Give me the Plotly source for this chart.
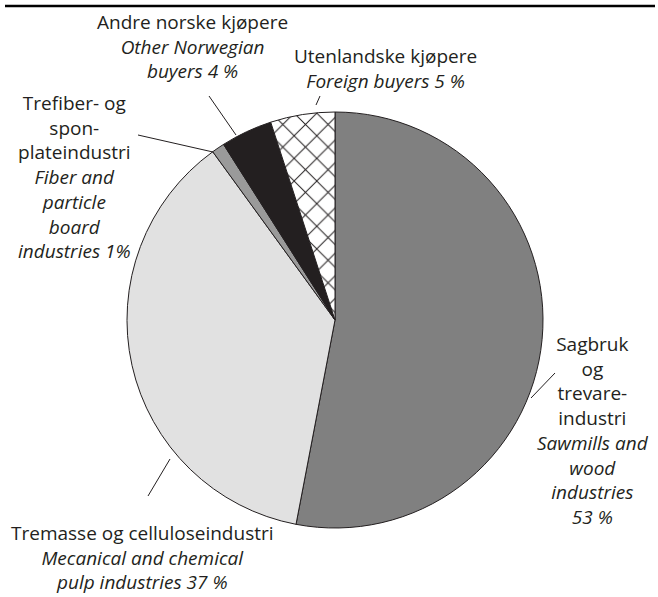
import plotly.graph_objects as go

W, H = 658, 597

labels = ["Sawmills and wood industries", "Mecanical and chemical pulp industries",
          "Fiber and particle board industries", "Other Norwegian buyers", "Foreign buyers"]
values = [53, 37, 1, 4, 5]
colors = ["#808080", "#e1e1e1", "#9a9a9a", "#231f20", "#ffffff"]
patterns = ["", "", "", "", "x"]

label_texts = [
    "Sagbruk<br>og<br>trevare-<br>industri<br><i>Sawmills and<br>wood<br>industries<br>53 %</i>",
    "Tremasse og celluloseindustri<br><i>Mecanical and chemical<br>pulp industries 37 %</i>",
    "Trefiber- og<br>spon-<br>plateindustri<br><i>Fiber and<br>particle<br>board<br>industries 1%</i>",
    "Andre norske kjøpere<br><i>Other Norwegian<br>buyers 4 %</i>",
    "Utenlandske kjøpere<br><i>Foreign buyers 5 %</i>",
]

# pie placement in pixels (page coordinates)
cx, cy, r = 335, 320, 208

def px(x):
    return x / W

def py(y):
    return 1 - y / H

fig = go.Figure()
fig.add_trace(go.Pie(
    labels=labels, values=values, sort=False, direction="clockwise", rotation=0,
    marker=dict(colors=colors, line=dict(color="#231f20", width=1),
                pattern=dict(shape=patterns, fgcolor="#231f20", bgcolor="#ffffff",
                             size=16, solidity=0.12)),
    textinfo="none", hoverinfo="label+percent", showlegend=False,
    domain=dict(x=[px(cx - r), px(cx + r)], y=[py(cy + r), py(cy - r)]),
))

font = dict(family="Open Sans", size=19, color="#231f20")
# annotation block centers (page pixels)
ann_pos = [(593, 430), (142, 557), (74, 177), (192, 47), (385, 68)]
for t, (x, y) in zip(label_texts, ann_pos):
    fig.add_annotation(x=px(x), y=py(y), xref="paper", yref="paper", text=t,
                       showarrow=False, xanchor="center", yanchor="middle",
                       align="center", font=font)

leaders = [((555, 373), (531, 398)), ((148, 496), (170, 459)), ((138, 135), (213, 152)),
           ((209, 96), (236, 135)), ((320, 96), (316, 105))]
shapes = []
for (x0, y0), (x1, y1) in leaders:
    shapes.append(dict(type="line", xref="paper", yref="paper", x0=px(x0), y0=py(y0),
                       x1=px(x1), y1=py(y1), line=dict(color="#231f20", width=1)))
shapes.append(dict(type="line", xref="paper", yref="paper", x0=px(5), y0=py(6),
                   x1=px(655), y1=py(6), line=dict(color="#000000", width=2.5)))

fig.update_layout(width=W, height=H, margin=dict(l=0, r=0, t=0, b=0),
                  paper_bgcolor="white", plot_bgcolor="white", shapes=shapes)
fig.write_html("out.html", config={"displayModeBar": False},
               post_script="document.body.style.margin='0';")
